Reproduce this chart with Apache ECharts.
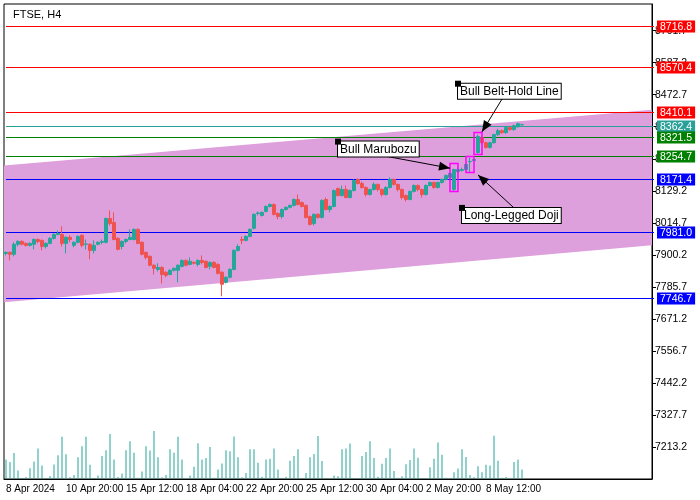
<!DOCTYPE html>
<html><head><meta charset="utf-8">
<script src="https://cdn.jsdelivr.net/npm/echarts@6/dist/echarts.min.js"></script>
<style>html,body{margin:0;padding:0;background:#fff}#c{width:700px;height:500px}</style>
</head><body><div id="c"></div>
<script>
const title = 'FTSE, H4';
const tickLabels = ['8 Apr 2024','10 Apr 20:00','15 Apr 12:00','18 Apr 04:00','22 Apr 20:00','25 Apr 12:00','30 Apr 04:00','2 May 20:00','8 May 12:00'];
const totalSlots = 162;
// [open, close, low, high]
const ohlc = [
[7905,7909,7898,7912],[7909,7902,7880,7912],[7902,7938,7895,7945],[7938,7948,7930,7952],[7948,7938,7934,7952],
[7941,7934,7930,7945],[7934,7941,7930,7945],[7938,7955,7920,7959],[7955,7948,7941,7959],[7952,7930,7916,7955],
[7930,7941,7923,7945],[7941,7959,7938,7963],[7959,7973,7955,7977],[7973,7977,7970,7987],[7973,7941,7930,8002],
[7941,7963,7905,7966],[7963,7955,7945,7970],[7934,7945,7927,7948],[7945,7966,7941,7970],[7970,7934,7927,7973],
[7938,7939,7920,7955],[7938,7916,7884,7941],[7916,7934,7905,7952],[7938,7945,7934,7948],[7945,7948,7938,7955],
[7945,8030,7941,8034],[8030,8012,8005,8059],[8016,7955,7952,8052],[7959,7920,7916,7963],[7930,7948,7920,7952],
[7948,7955,7941,7959],[7955,7963,7952,7991],[7955,7991,7952,7995],[7991,7941,7938,7995],[7945,7902,7898,7948],
[7909,7891,7884,7912],[7895,7863,7859,7898],[7863,7852,7830,7866],[7848,7855,7841,7870],[7855,7830,7798,7859],
[7838,7827,7820,7841],[7830,7845,7827,7848],[7845,7852,7841,7855],[7845,7863,7802,7866],[7859,7880,7855,7884],
[7880,7863,7859,7884],[7866,7877,7863,7891],[7873,7870,7866,7877],[7866,7880,7859,7884],[7880,7873,7866,7898],
[7877,7855,7852,7880],[7859,7873,7848,7877],[7873,7855,7852,7877],[7866,7834,7830,7870],[7838,7795,7752,7841],
[7802,7820,7798,7823],[7820,7848,7816,7852],[7848,7916,7845,7920],[7916,7930,7912,7938],[7955,7952,7938,7966],
[7952,7966,7948,7970],[7966,7991,7963,7995],[7995,8045,7991,8048],[8048,8050,8041,8055],[8041,8052,8037,8055],
[8055,8073,8052,8077],[8073,8080,8070,8084],[8080,8045,8041,8084],[8048,8037,8027,8052],[8037,8062,8030,8066],
[8062,8070,8059,8073],[8070,8077,8066,8080],[8077,8098,8073,8102],[8098,8080,8077,8116],[8087,8073,8070,8091],
[8077,8034,8030,8080],[8037,8009,8005,8041],[8012,8045,8005,8048],[8045,8034,8030,8048],[8034,8095,8030,8098],
[8098,8062,8059,8105],[8062,8073,8052,8077],[8073,8130,8070,8134],[8137,8112,8109,8141],[8112,8134,8109,8148],
[8134,8105,8102,8148],[8105,8130,8102,8134],[8130,8166,8127,8170],[8170,8155,8152,8173],[8155,8141,8137,8162],
[8141,8116,8109,8145],[8116,8134,8112,8137],[8134,8152,8130,8159],[8152,8134,8127,8155],[8134,8116,8109,8137],
[8116,8141,8112,8145],[8141,8170,8137,8177],[8170,8152,8148,8173],[8152,8134,8127,8155],[8134,8105,8098,8137],
[8112,8098,8091,8116],[8098,8127,8095,8130],[8127,8148,8123,8152],[8148,8134,8127,8152],[8134,8116,8105,8137],
[8116,8148,8112,8152],[8148,8159,8145,8162],[8159,8141,8137,8162],[8141,8159,8137,8162],[8159,8170,8155,8173],
[8170,8184,8166,8187],[8177,8191,8173,8194],[8134,8205,8125,8208],[8198,8205,8194,8209],[8202,8205,8198,8212],
[8205,8223,8202,8226],[8233,8234,8194,8248],[8237,8241,8234,8244],[8266,8323,8262,8330],[8319,8301,8294,8323],
[8301,8284,8280,8305],[8284,8301,8280,8305],[8301,8330,8298,8333],[8330,8344,8326,8351],[8344,8337,8333,8348],
[8337,8355,8333,8358],[8355,8348,8344,8358],[8348,8362,8344,8366],[8358,8369,8355,8373],[8365,8366,8362,8369]
];
const volumes = [58,50,77,25,2,6,32,52,90,40,2,9,43,70,125,73,5,12,64,97,125,42,3,10,68,85,133,58,6,16,85,112,78,4,22,97,84,142,64,5,12,88,78,125,58,3,10,36,106,58,62,95,4,28,46,85,82,126,64,5,18,88,88,48,7,58,60,90,28,2,7,54,68,88,2,18,64,74,127,53,2,3,10,8,88,90,105,2,3,68,80,112,62,7,45,62,90,24,4,8,44,56,90,63,2,3,35,60,108,72,4,2,20,31,88,65,12,5,38,20,42,40,128,54,4,6,2,50,58,28];
const levels = [
 {v:8716.8,c:'#ff0000'},{v:8570.4,c:'#ff0000'},{v:8410.1,c:'#ff0000'},{v:8362.4,c:'#2aa198'},
 {v:8321.5,c:'#008000'},{v:8254.7,c:'#008000'},{v:8171.4,c:'#0000ff'},{v:7981.0,c:'#0000ff'},{v:7746.7,c:'#0000ff'}
];
const channelTop = [8219.4, 8419.2];
const channelBottom = [7730.8, 7934.1];
const patterns = [
 {text:'Bull Marubozu', bar:112, hi:8226.6, lo:8126.7, boxBar:82.5, boxPrice:8305, from:[93.3,8258], to:[110.5,8210]},
 {text:'Long-Legged Doji', bar:116, hi:8251.5, lo:8194.5, boxBar:114.25, boxPrice:8068, from:[127,8068], to:[117.5,8186]},
 {text:'Bull Belt-Hold Line', bar:118, hi:8337.2, lo:8258.7, boxBar:112.5, boxPrice:8512, from:[123.5,8457], to:[118.5,8340]}
];

const cats = Array.from({length: totalSlots}, (_, i) => String(i));
const up = '#26a69a', down = '#ef5350';
const font = 'Liberation Sans';
const chart = echarts.init(document.getElementById('c'));
chart.setOption({
  animation:false,
  textStyle:{fontFamily:font},
  title:{text:title,left:8,top:4,textStyle:{fontSize:11,fontWeight:'normal',color:'#000',fontFamily:font}},
  grid:[{left:4,right:48,top:4,bottom:21,show:true,borderColor:'#000',borderWidth:1},
        {left:4,right:48,top:430,bottom:21}],
  xAxis:[
   {type:'category',data:cats,gridIndex:0,boundaryGap:true,
    axisLine:{lineStyle:{color:'#000'}},
    axisTick:{interval:14,length:4,lineStyle:{color:'#000'}},
    axisLabel:{interval:14,align:'left',margin:5,color:'#000',fontSize:10,
      formatter:(v,i)=>tickLabels[Math.round(i/15)]||''},
    splitLine:{show:false}},
   {type:'category',data:cats,gridIndex:1,show:false},
   {type:'value',gridIndex:0,min:0,max:1,show:false}
  ],
  yAxis:[
   {type:'value',gridIndex:0,position:'right',min:7098.7,max:8797,interval:114.5,
    axisLine:{show:true,onZero:false,lineStyle:{color:'#000'}},axisTick:{show:true,length:4,lineStyle:{color:'#000'}},
    axisLabel:{color:'#000',fontSize:10.5,margin:3,showMinLabel:false,showMaxLabel:false,formatter:v=>v.toFixed(1)},
    splitLine:{show:false}},
   {type:'value',gridIndex:1,min:0,max:145,show:false}
  ],
  series:[
   {type:'custom',xAxisIndex:2,yAxisIndex:0,z:1,silent:true,clip:true,data:[0],
    renderItem:(p,api)=>({type:'polygon',shape:{points:[
      api.coord([0,channelTop[0]]),api.coord([1,channelTop[1]]),
      api.coord([1,channelBottom[1]]),api.coord([0,channelBottom[0]])]},
      style:{fill:'#dda0dd'}})},
   {type:'candlestick',xAxisIndex:0,yAxisIndex:0,z:5,data:ohlc,barWidth:3,
    itemStyle:{color:up,color0:down,borderColor:up,borderColor0:down,borderWidth:1}},
   {type:'bar',xAxisIndex:1,yAxisIndex:1,data:volumes,barWidth:1,itemStyle:{color:up},silent:true}
  ]
});
function px(bar,price){return chart.convertToPixel({xAxisIndex:0,yAxisIndex:0},[bar,price]);}
const g=[];
const gx0=px(-0.5,8000)[0], gx1=px(totalSlots-0.5,8000)[0];
levels.forEach(l=>{
  const y=Math.round(px(0,l.v)[1])+0.5;
  g.push({type:'line',z:3,shape:{x1:gx0,y1:y,x2:gx1,y2:y},style:{stroke:l.c,lineWidth:1}});
  g.push({type:'text',z:70,x:gx1+3,y:y-6,style:{text:l.v.toFixed(1),fill:'#fff',font:'10.5px '+font,
    backgroundColor:l.c,padding:[1,3,0,3]}});
});
patterns.forEach(p=>{
  const a=px(p.bar-1,p.hi), b=px(p.bar+1,p.lo);
  g.push({type:'rect',z:50,shape:{x:a[0],y:a[1],width:b[0]-a[0],height:b[1]-a[1]},style:{fill:null,stroke:'#ff00ff',lineWidth:1.5}});
  const bx=px(p.boxBar,p.boxPrice);
  g.push({type:'text',z:60,x:bx[0],y:bx[1],style:{text:p.text,fill:'#000',font:'12px '+font,
    backgroundColor:'#fff',borderColor:'#000',borderWidth:1,padding:[2,2,1,2]}});
  g.push({type:'rect',z:61,shape:{x:bx[0]-3,y:bx[1]-3,width:6,height:6},style:{fill:'#000'}});
  const f=px(p.from[0],p.from[1]), t=px(p.to[0],p.to[1]);
  g.push({type:'line',z:55,shape:{x1:f[0],y1:f[1],x2:t[0],y2:t[1]},style:{stroke:'#000',lineWidth:1}});
  const ang=Math.atan2(t[1]-f[1],t[0]-f[0]), L=11, W=4.5;
  const bxp=t[0]-L*Math.cos(ang), byp=t[1]-L*Math.sin(ang);
  g.push({type:'polygon',z:56,shape:{points:[[t[0],t[1]],[bxp+W*Math.sin(ang),byp-W*Math.cos(ang)],[bxp-W*Math.sin(ang),byp+W*Math.cos(ang)]]},style:{fill:'#000'}});
});
chart.setOption({graphic:g});
</script></body></html>
